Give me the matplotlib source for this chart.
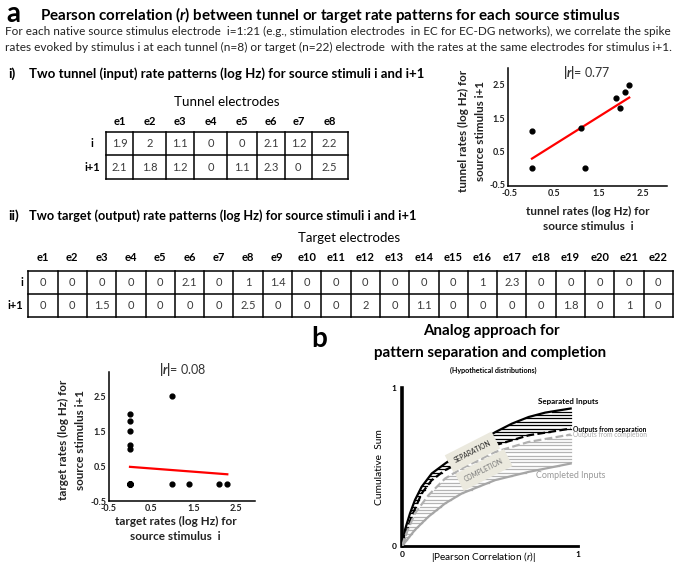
import numpy as np
import matplotlib
matplotlib.use('Agg')
import matplotlib.pyplot as plt

plt.rcParams['font.family'] = ['Lato', 'DejaVu Sans']
plt.rcParams['mathtext.fontset'] = 'custom'
plt.rcParams['mathtext.rm'] = 'Lato'
plt.rcParams['mathtext.it'] = 'Lato:italic'
plt.rcParams['mathtext.bf'] = 'Lato:bold'
plt.rcParams['mathtext.bfit'] = 'Lato:bold:italic'

W, H = 678, 572

# ---- data ----
tunnel_labels = ['e1', 'e2', 'e3', 'e4', 'e5', 'e6', 'e7', 'e8']
tunnel_i = [1.9, 2, 1.1, 0, 0, 2.1, 1.2, 2.2]
tunnel_i1 = [2.1, 1.8, 1.2, 0, 1.1, 2.3, 0, 2.5]
tunnel_r = 0.77

target_labels = ['e%d' % k for k in range(1, 23)]
target_i = [0, 0, 0, 0, 0, 2.1, 0, 1, 1.4, 0, 0, 0, 0, 0, 0, 1, 2.3, 0, 0, 0, 0, 0]
target_i1 = [0, 0, 1.5, 0, 0, 0, 0, 2.5, 0, 0, 0, 2, 0, 1.1, 0, 0, 0, 0, 1.8, 0, 1, 0]
target_r = 0.08

row_labels = ['i', 'i+1']
scatter_ticks = [-0.5, 0.5, 1.5, 2.5]

# hypothetical cumulative curves (panel b)
sep_x = [0, 0.015, 0.044, 0.072, 0.11, 0.168, 0.244, 0.339, 0.434, 0.53, 0.625, 0.72, 0.815, 0.96]
sep_y = [0, 0.10, 0.205, 0.289, 0.373, 0.458, 0.521, 0.595, 0.658, 0.72, 0.774, 0.816, 0.844, 0.87]
outsep_x = [0, 0.015, 0.053, 0.11, 0.168, 0.244, 0.339, 0.53, 0.72, 0.834, 0.96]
outsep_y = [0, 0.057, 0.184, 0.331, 0.416, 0.479, 0.532, 0.637, 0.70, 0.72, 0.743]
outcomp_x = [0, 0.015, 0.072, 0.149, 0.244, 0.339, 0.53, 0.72, 0.96]
outcomp_y = [0, 0.057, 0.205, 0.32, 0.426, 0.49, 0.595, 0.658, 0.705]
comp_x = [0, 0.072, 0.149, 0.244, 0.339, 0.53, 0.72, 0.96]
comp_y = [0, 0.1, 0.184, 0.268, 0.331, 0.416, 0.468, 0.521]

fig = plt.figure(figsize=(W / 100, H / 100), dpi=100)
fig.patch.set_facecolor('white')


def px_axes(x0, y0, x1, y1):
    return fig.add_axes([x0 / W, 1 - y1 / H, (x1 - x0) / W, (y1 - y0) / H])


# overlay in pixel coordinates for text and tables
ov = px_axes(0, 0, W, H)
ov.set_xlim(0, W)
ov.set_ylim(H, 0)
ov.axis('off')

fits = []     # (text, wanted size in px, rotated?)
same = []     # (source text, follower text) -> same font size


def txt(x, y, s, size=None, ha='left', **kw):
    kw.setdefault('va', 'center')
    t = ov.text(x, y, s, ha=ha, **kw)
    if size is not None:
        fits.append((t, size, kw.get('rotation', 0) == 90))
    return t


# ---- headers ----
txt(6, 14, 'a', fontsize=20, fontweight='bold')
txt(40, 15, r'Pearson correlation ($\mathbfit{r}$) between tunnel or target rate patterns for each source stimulus',
    size=580, fontsize=11, fontweight='bold')
txt(5, 31, 'For each native source stimulus electrode  i=1:21 (e.g., stimulation electrodes  in EC for EC-DG networks), we correlate the spike',
    size=667, fontsize=8, color='#222222')
txt(5, 47, 'rates evoked by stimulus i at each tunnel (n=8) or target (n=22) electrode  with the rates at the same electrodes for stimulus i+1.',
    size=667, fontsize=8, color='#222222')

txt(8, 74, 'i)', fontsize=10, fontweight='bold')
txt(29, 74, 'Two tunnel (input) rate patterns (log Hz) for source stimuli i and i+1',
    size=396, fontsize=9, fontweight='bold')
txt(8, 216, 'ii)', fontsize=10, fontweight='bold')
txt(29, 216, 'Two target (output) rate patterns (log Hz) for source stimuli i and i+1',
    size=390, fontsize=9, fontweight='bold')


# ---- tables ----
def draw_table(edges, y_edges, labels, rows, label_x, label_ha, head_y):
    for e in edges:
        ov.plot([e, e], [y_edges[0], y_edges[-1]], color='black', lw=1.1)
    for yy in y_edges:
        ov.plot([edges[0], edges[-1]], [yy, yy], color='black', lw=1.1)
    for c, lab in enumerate(labels):
        cx = (edges[c] + edges[c + 1]) / 2
        ov.text(cx, head_y, lab, ha='center', va='center', fontsize=8, fontweight='bold')
        for r, vals in enumerate(rows):
            cy = (y_edges[r] + y_edges[r + 1]) / 2
            ov.text(cx, cy, '%g' % vals[c], ha='center', va='center', fontsize=8, color='#3a3a3a')
    for r, lab in enumerate(row_labels):
        cy = (y_edges[r] + y_edges[r + 1]) / 2
        ov.text(label_x, cy, lab, ha=label_ha, va='center', fontsize=8, fontweight='bold')


tunnel_edges = [106, 133.3, 165.7, 194.3, 226.7, 256.7, 285, 311.7, 347.7]
txt(227, 101.5, 'Tunnel electrodes', ha='center', size=105, fontsize=9)
draw_table(tunnel_edges, [131.7, 155.3, 179], tunnel_labels, [tunnel_i, tunnel_i1], 92, 'center', 121.7)

target_edges = list(np.linspace(28.3, 673, len(target_labels) + 1))
txt(349, 238.3, 'Target electrodes', ha='center', size=102, fontsize=9)
draw_table(target_edges, [271, 294, 316.5], target_labels, [target_i, target_i1], 23, 'right', 257.7)


# ---- scatter plots ----
def scatter_panel(ax, x, y, xl, yl):
    ax.scatter(x, y, s=12, color='black', zorder=3)
    k, b = np.polyfit(x, y, 1)
    xs = np.array([min(x), max(x)])
    ax.plot(xs, k * xs + b, color='red', lw=1.6, zorder=2)
    ax.set_xlim(*xl)
    ax.set_ylim(*yl)
    ax.set_xticks(scatter_ticks)
    ax.set_yticks(scatter_ticks)
    ax.set_xticklabels(['%g' % v for v in scatter_ticks], fontsize=6.5, fontweight='bold')
    ax.set_yticklabels(['%g' % v for v in scatter_ticks], fontsize=6.5, fontweight='bold')
    ax.tick_params(length=0, pad=2, colors='#222222')
    for s in ['top', 'right']:
        ax.spines[s].set_visible(False)
    for s in ['left', 'bottom']:
        ax.spines[s].set_linewidth(1.1)
    ax.patch.set_alpha(0)


lab_kw = dict(fontsize=7.5, fontweight='bold', color='#222222', ha='center')

ax1 = px_axes(508.1, 68.4, 666.8, 185.9)
scatter_panel(ax1, tunnel_i, tunnel_i1, (-0.54, 3.05), (-0.55, 3.0))
txt(586.7, 72.5, r'$\mathbf{|}\mathbfit{r}\mathbf{|}$= %.2f' % tunnel_r, ha='center', fontsize=9, color='#333333')
a1 = txt(587.5, 211, 'tunnel rates (log Hz) for', size=123, **lab_kw)
same.append((a1, txt(588.7, 226.5, 'source stimulus  i', **lab_kw)))
a2 = txt(463.3, 130.8, 'tunnel rates (log Hz) for', rotation=90, size=122, **lab_kw)
same.append((a2, txt(480, 130.8, 'source stimulus i+1', rotation=90, **lab_kw)))

ax2 = px_axes(108.85, 372.0, 254.8, 501.15)
scatter_panel(ax2, target_i, target_i1, (-0.5, 2.95), (-0.5, 3.2))
txt(182.7, 369, r'$\mathbf{|}\mathbfit{r}\mathbf{|}$= %.2f' % target_r, ha='center', fontsize=9, color='#333333')
a3 = txt(175.7, 521.7, 'target rates (log Hz) for', size=121, **lab_kw)
same.append((a3, txt(175.7, 536.7, 'source stimulus  i', **lab_kw)))
a4 = txt(63, 440, 'target rates (log Hz) for', rotation=90, size=120, **lab_kw)
same.append((a4, txt(80, 440, 'source stimulus i+1', rotation=90, **lab_kw)))

# ---- panel b ----
txt(311, 339, 'b', fontsize=20, fontweight='bold')
bt2 = txt(490, 353, 'pattern separation and completion', ha='center', size=233, fontsize=10, fontweight='bold')
same.append((bt2, txt(491.7, 331.5, 'Analog approach for', ha='center', fontsize=10, fontweight='bold')))
txt(493, 370, '(Hypothetical distributions)', ha='center', size=88, fontsize=6, fontweight='bold')

axb = px_axes(402.3, 388, 577.7, 545.7)
axb.set_xlim(0, 1)
axb.set_ylim(0, 1)
axb.patch.set_alpha(0)

# horizontal hatching between curve pairs
for yy in np.arange(0.012, 0.87, 0.0215):
    left = np.interp(yy, sep_y, sep_x)
    right = np.interp(yy, outsep_y, outsep_x) if yy < outsep_y[-1] else outsep_x[-1]
    if right > left:
        axb.plot([left, right], [yy, yy], color='black', lw=0.9, zorder=1)
for yy in np.arange(0.012, 0.705, 0.0215):
    left = np.interp(yy, outcomp_y, outcomp_x)
    right = np.interp(yy, comp_y, comp_x) if yy < comp_y[-1] else comp_x[-1]
    if right > left:
        axb.plot([left, right], [yy, yy], color='#b4b4b4', lw=0.9, zorder=1)

axb.plot(sep_x, sep_y, color='black', lw=1.6, zorder=3)
axb.plot(outsep_x, outsep_y, color='black', lw=1.6, ls=(0, (3.5, 1.5)), zorder=3)
axb.plot(outcomp_x, outcomp_y, color='#b0b0b0', lw=1.6, ls=(0, (3.5, 1.5)), zorder=3)
axb.plot(comp_x, comp_y, color='#a6a6a6', lw=1.6, zorder=3)

box = dict(boxstyle='square,pad=0.9', fc='#ebe9de', ec='none')
axb.text(0.40, 0.595, 'SEPARATION', rotation=27, ha='center', va='center', fontsize=4.8,
         color='#222222', bbox=box, zorder=4)
axb.text(0.465, 0.48, 'COMPLETION', rotation=27, ha='center', va='center', fontsize=4.8,
         color='#777777', bbox=box, zorder=4)

axb.text(0.948, 0.913, 'Separated Inputs', ha='center', va='center', fontsize=5.8, fontweight='bold', clip_on=False)
axb.text(0.971, 0.74, 'Outputs from separation', ha='left', va='center', fontsize=4.8, fontweight='bold', clip_on=False)
axb.text(0.971, 0.702, 'Outputs from completion', ha='left', va='center', fontsize=4.8, color='#aaaaaa', clip_on=False)
axb.text(0.962, 0.442, 'Completed Inputs', ha='center', va='center', fontsize=6.4, color='#999999', clip_on=False)

axb.set_xticks([0, 1])
axb.set_yticks([0, 1])
axb.set_xticklabels(['0', '1'], fontsize=6, fontweight='bold')
axb.set_yticklabels(['0', '1'], fontsize=6, fontweight='bold')
axb.tick_params(length=0, pad=4)
for s in ['top', 'right']:
    axb.spines[s].set_visible(False)
axb.spines['left'].set_linewidth(2.6)
axb.spines['bottom'].set_linewidth(2.0)

txt(380, 466.7, 'Cumulative  Sum', ha='center', rotation=90, size=77, fontsize=8)
txt(483, 556.7, r'|Pearson Correlation ($\mathit{r}$)|', ha='center', size=105, fontsize=8)

# scale the fitted texts to their measured widths
fig.canvas.draw()
rend = fig.canvas.get_renderer()
for _ in range(3):
    for t, size, rot in fits:
        bb = t.get_window_extent(rend)
        cur = bb.height if rot else bb.width
        t.set_fontsize(t.get_fontsize() * size / cur)
    fig.canvas.draw()
for src, dst in same:
    dst.set_fontsize(src.get_fontsize())

fig.savefig('out.png', dpi=100)
